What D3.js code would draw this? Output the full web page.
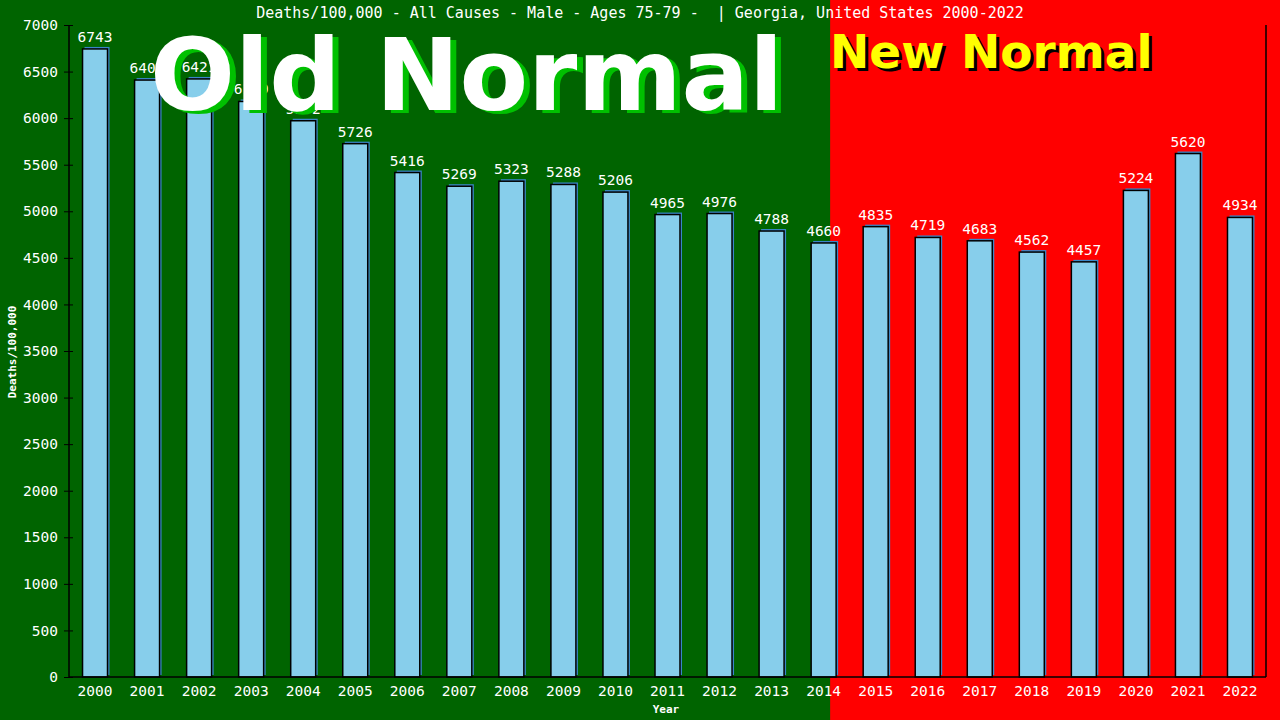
<!doctype html>
<html>
<head>
<meta charset="utf-8">
<title>Deaths/100,000 - All Causes - Male - Ages 75-79</title>
<script src="https://d3js.org/d3.v7.min.js"></script>
<style>
  body { margin: 0; background: #006400; }
  text { font-family: 'DejaVu Sans Mono', monospace; fill: #fff; white-space: pre; }
  .tick text { font-size: 14.5px; }
  .big { font-family: 'DejaVu Sans', sans-serif; font-weight: bold; }
</style>
</head>
<body>
<svg id="chart" width="1280" height="720"></svg>
<script>
  // data
  var years = ["2000","2001","2002","2003","2004","2005","2006","2007","2008","2009","2010",
               "2011","2012","2013","2014","2015","2016","2017","2018","2019","2020","2021","2022"];
  var deaths = [6743, 6409, 6421, 6179, 5972, 5726, 5416, 5269, 5323, 5288, 5206,
                4965, 4976, 4788, 4660, 4835, 4719, 4683, 4562, 4457, 5224, 5620, 4934];
  var yTicks = d3.range(0, 7001, 500);
  var lastOldYear = "2014";

  var width = 1280, height = 720;
  var plotLeft = 69, plotRight = 1266, plotTop = 25, plotBottom = 677;

  var svg = d3.select("#chart");

  var x = d3.scaleBand()
    .domain(years)
    .range([plotLeft, plotRight])
    .paddingInner(0.52)
    .paddingOuter(0.26);

  var y = d3.scaleLinear()
    .domain([0, 7000])
    .range([plotBottom, plotTop]);

  // background: old normal green, new normal red
  var split = x(lastOldYear) + x.bandwidth() / 2 + x.step() * 0.125;
  svg.append("rect").attr("x", 0).attr("y", 0).attr("width", split).attr("height", height).attr("fill", "#006400");
  svg.append("rect").attr("x", split).attr("y", 0).attr("width", width - split).attr("height", height).attr("fill", "#ff0000");

  // title
  svg.append("text")
    .attr("x", 640).attr("y", 18)
    .attr("text-anchor", "middle")
    .style("font-size", "15px")
    .text("Deaths/100,000 - All Causes - Male - Ages 75-79 -  | Georgia, United States 2000-2022");

  // bars: offset blue shadow then bar with black border
  svg.selectAll("rect.shadow")
    .data(years)
    .enter()
    .append("rect")
    .attr("class", "shadow")
    .attr("x", d => x(d) + 2)
    .attr("y", (d, i) => y(deaths[i]) - 2)
    .attr("width", x.bandwidth())
    .attr("height", (d, i) => plotBottom - y(deaths[i]))
    .attr("fill", "#3a86c8");

  svg.selectAll("rect.bar")
    .data(years)
    .enter()
    .append("rect")
    .attr("class", "bar")
    .attr("x", d => x(d))
    .attr("y", (d, i) => y(deaths[i]))
    .attr("width", x.bandwidth())
    .attr("height", (d, i) => plotBottom - y(deaths[i]))
    .attr("fill", "#87ceeb")
    .attr("stroke", "#000")
    .attr("stroke-width", 1.5);

  // value labels
  svg.selectAll("text.value")
    .data(years)
    .enter()
    .append("text")
    .attr("class", "value")
    .attr("x", d => x(d) + x.bandwidth() / 2)
    .attr("y", (d, i) => y(deaths[i]) - 7)
    .attr("text-anchor", "middle")
    .style("font-size", "14.5px")
    .text((d, i) => deaths[i]);

  // axes
  var yAxis = svg.append("g")
    .attr("transform", "translate(" + plotLeft + ",0)")
    .call(d3.axisLeft(y).tickValues(yTicks).tickFormat(d3.format("d")).tickSize(5).tickPadding(6));
  yAxis.selectAll(".tick line").attr("x1", 4).attr("x2", -5).attr("stroke", "#000");
  yAxis.select(".domain").remove();

  var xAxis = svg.append("g")
    .attr("transform", "translate(0," + plotBottom + ")")
    .call(d3.axisBottom(x).tickSize(0).tickPadding(9));
  xAxis.select(".domain").remove();
  svg.selectAll(".tick text").attr("fill", "#fff").style("font-family", "'DejaVu Sans Mono', monospace");

  svg.append("line").attr("x1", plotLeft).attr("x2", plotLeft).attr("y1", plotTop).attr("y2", plotBottom).attr("stroke", "#000").attr("stroke-width", 1.5);
  svg.append("line").attr("x1", plotRight).attr("x2", plotRight).attr("y1", plotTop).attr("y2", plotBottom).attr("stroke", "#000").attr("stroke-width", 1.5);
  svg.append("line").attr("x1", plotLeft).attr("x2", plotRight).attr("y1", plotBottom).attr("y2", plotBottom).attr("stroke", "#000").attr("stroke-width", 1.5);

  // axis titles
  svg.append("text")
    .attr("transform", "translate(16,352) rotate(-90)")
    .attr("text-anchor", "middle")
    .style("font-size", "11px")
    .style("font-weight", "bold")
    .text("Deaths/100,000");

  svg.append("text")
    .attr("x", 666).attr("y", 713)
    .attr("text-anchor", "middle")
    .style("font-size", "11px")
    .style("font-weight", "bold")
    .text("Year");

  // overlay captions
  svg.append("text").attr("class", "big")
    .attr("x", 156).attr("y", 113)
    .style("font-size", "100px").style("fill", "#00c000")
    .text("Old Normal");
  svg.append("text").attr("class", "big")
    .attr("x", 150).attr("y", 110)
    .style("font-size", "100px").style("fill", "#fff")
    .text("Old Normal");

  svg.append("text").attr("class", "big")
    .attr("x", 833).attr("y", 71)
    .style("font-size", "47px").style("fill", "#000")
    .text("New Normal");
  svg.append("text").attr("class", "big")
    .attr("x", 830).attr("y", 68)
    .style("font-size", "47px").style("fill", "#ffff00")
    .text("New Normal");
</script>
</body>
</html>
